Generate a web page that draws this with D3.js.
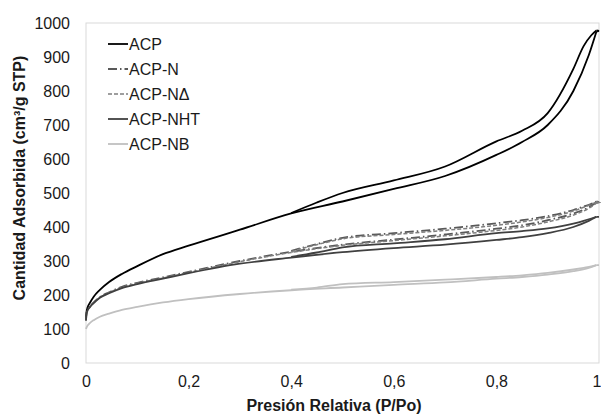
<!DOCTYPE html>
<html><head><meta charset="utf-8">
<script src="https://cdn.jsdelivr.net/npm/d3@7"></script>
<style>body{margin:0;background:#fff;font-family:"Liberation Sans",Arial,sans-serif;}</style>
</head><body><div id="chart"></div>
<script>
// Relative pressure points (adsorption branch, desorption branch)
const P_ADS = [0, 0.001, 0.003, 0.008, 0.015, 0.027, 0.045, 0.07, 0.1, 0.15, 0.2, 0.3, 0.4, 0.5, 0.6, 0.7, 0.8, 0.85, 0.9, 0.95, 0.98, 0.995];
const P_DES = [0.4, 0.45, 0.5, 0.6, 0.7, 0.8, 0.85, 0.9, 0.95, 0.97, 0.985, 0.995];

const ACP_ADS  = [130, 150, 163, 178, 195, 215, 238, 262, 285, 320, 345, 392, 440, 475, 512, 550, 612, 650, 700, 800, 905, 975];
const ACP_DES  = [441, 472, 500, 537, 578, 652, 683, 735, 865, 932, 964, 978];
const N_ADS    = [125, 145, 155, 167, 178, 194, 208, 224, 236, 252, 268, 300, 327, 348, 363, 378, 395, 405, 420, 440, 458, 472];
const N_DES    = [330, 350, 368, 382, 395, 411, 420, 432, 450, 460, 468, 475];
const ND_ADS   = [125, 145, 155, 166, 177, 193, 207, 222, 234, 250, 266, 298, 325, 346, 360, 374, 390, 400, 415, 435, 455, 470];
const ND_DES   = [328, 348, 365, 378, 390, 405, 415, 428, 447, 458, 467, 474];
const NHT_ADS  = [125, 145, 154, 165, 176, 192, 205, 220, 232, 248, 264, 292, 310, 326, 338, 348, 362, 370, 382, 400, 418, 430];
const NHT_DES  = [312, 325, 340, 352, 364, 382, 388, 396, 410, 418, 425, 430];
const NB_ADS   = [100, 104, 110, 118, 126, 136, 145, 156, 165, 178, 188, 203, 214, 222, 230, 237, 248, 253, 260, 270, 280, 288];
const NB_DES   = [216, 222, 232, 238, 245, 253, 258, 265, 275, 280, 284, 288];

const SERIES_NAMES = ["ACP", "ACP-N", "ACP-N\u0394", "ACP-NHT", "ACP-NB"];
const X_TICKS = [0, 0.2, 0.4, 0.6, 0.8, 1];
const Y_TICKS = [0, 100, 200, 300, 400, 500, 600, 700, 800, 900, 1000];

const series = [
  {name: SERIES_NAMES[0], ads: ACP_ADS, des: ACP_DES, color: "#000000", dash: null, w: 1.8},
  {name: SERIES_NAMES[1], ads: N_ADS, des: N_DES, color: "#595959", dash: "9,3,1.5,3", w: 1.8},
  {name: SERIES_NAMES[2], ads: ND_ADS, des: ND_DES, color: "#7f7f7f", dash: "4,2", w: 1.5},
  {name: SERIES_NAMES[3], ads: NHT_ADS, des: NHT_DES, color: "#404040", dash: null, w: 1.8},
  {name: SERIES_NAMES[4], ads: NB_ADS, des: NB_DES, color: "#c0c0c0", dash: null, w: 1.8}
];

const W = 601, H = 414;
const m = {left: 86, right: 2, top: 23, bottom: 51};
const FONT = "Liberation Sans, Arial, sans-serif";
const svg = d3.select("#chart").append("svg").attr("width", W).attr("height", H)
  .attr("font-family", FONT);

const x = d3.scaleLinear().domain([0, 1]).range([m.left, W - m.right]);
const y = d3.scaleLinear().domain([0, 1000]).range([H - m.bottom, m.top]);

// plot frame
svg.append("rect").attr("x", x(0)).attr("y", y(1000))
  .attr("width", x(1) - x(0)).attr("height", y(0) - y(1000))
  .attr("fill", "none").attr("stroke", "#d9d9d9").attr("stroke-width", 1);

const fmtX = d => String(d).replace(".", ",");
const xAxis = svg.append("g").attr("transform", `translate(0,${y(0)})`)
  .call(d3.axisBottom(x).tickValues(X_TICKS).tickFormat(fmtX).tickSize(0).tickPadding(13));
const yAxis = svg.append("g").attr("transform", `translate(${x(0)},0)`)
  .call(d3.axisLeft(y).tickValues(Y_TICKS).tickFormat(d3.format("d")).tickSize(0).tickPadding(16));
[xAxis, yAxis].forEach(g => {
  g.select(".domain").remove();
  g.selectAll("text").attr("font-family", FONT)
    .attr("font-size", 16).attr("fill", "#1a1a1a");
});
// keep the last x label inside the window
xAxis.selectAll(".tick").filter(d => d === 1).select("text").attr("text-anchor", "end").attr("dx", 2);

const line = d3.line().x(d => x(d[0])).y(d => y(d[1])).curve(d3.curveMonotoneX);
const g = svg.append("g");
series.forEach(s => {
  [[P_ADS, s.ads], [P_DES, s.des]].forEach(([ps, vs]) => {
    g.append("path").datum(ps.map((p, i) => [p, vs[i]]))
      .attr("d", line).attr("fill", "none").attr("stroke", s.color)
      .attr("stroke-width", s.w).attr("stroke-dasharray", s.dash);
  });
});
// closing cap at top of loops
series.forEach(s => {
  const pts = [[P_ADS[P_ADS.length-1], s.ads[s.ads.length-1]], [1, (s.ads[s.ads.length-1]+s.des[s.des.length-1])/2], [P_DES[P_DES.length-1], s.des[s.des.length-1]]];
  g.append("path").datum(pts).attr("d", d3.line().x(d => x(d[0])).y(d => y(d[1])))
    .attr("fill", "none").attr("stroke", s.color).attr("stroke-width", s.w);
});

// legend
const lg = svg.append("g");
series.forEach((s, i) => {
  const yy = 44 + i * 25;
  lg.append("line").attr("x1", 108).attr("x2", 128).attr("y1", yy).attr("y2", yy)
    .attr("stroke", s.color).attr("stroke-width", s.w).attr("stroke-dasharray", s.dash);
  lg.append("text").attr("x", 129).attr("y", yy + 6).text(s.name)
    .attr("font-size", 16).attr("fill", "#1a1a1a");
});

// axis titles
svg.append("text").attr("x", 334).attr("y", 411).attr("text-anchor", "middle")
  .attr("font-weight", "bold").attr("font-size", 16).attr("fill", "#1a1a1a")
  .text("Presión Relativa (P/Po)");
svg.append("text").attr("transform", "translate(25,178) rotate(-90)").attr("text-anchor", "middle")
  .attr("font-weight", "bold").attr("font-size", 16).attr("fill", "#1a1a1a")
  .text("Cantidad Adsorbida (cm³/g STP)");
</script></body></html>
